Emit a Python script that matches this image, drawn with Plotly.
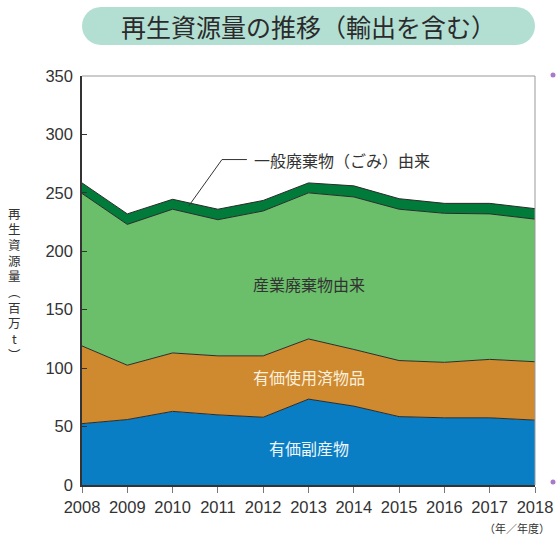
import plotly.graph_objects as go

years = [2008, 2009, 2010, 2011, 2012, 2013, 2014, 2015, 2016, 2017, 2018]
by_products = [52.5, 56, 63, 60, 58, 73.5, 67.5, 58.5, 57.5, 57.5, 55.5]
used_goods = [66.5, 46.5, 50, 50.5, 52.5, 51.5, 48.5, 48, 47.5, 50, 50]
industrial = [130.5, 120.5, 123, 116.5, 124, 125, 130.5, 129.5, 127.5, 124.5, 122]
municipal = [9, 9, 8.5, 9, 9, 8.5, 9.5, 9, 8.5, 9, 9]

series_names = ["有価副産物", "有価使用済物品", "産業廃棄物由来", "一般廃棄物（ごみ）由来"]
series_values = [by_products, used_goods, industrial, municipal]
colors = ["#0a7ec4", "#cf892e", "#6bbf6b", "#007b3a"]

title_text = "再生資源量の推移（輸出を含む）"
y_title_chars = ["再", "生", "資", "源", "量", "︵", "百", "万", "t", "︶"]
unit_text = "（年／年度）"

JP = "Noto Sans CJK JP, Noto Sans, sans-serif"
NUM = "Liberation Sans, Arial, sans-serif"

fig = go.Figure()
for name, vals, col in zip(series_names, series_values, colors):
    fig.add_trace(go.Scatter(
        x=years, y=vals, name=name, mode="lines", stackgroup="one",
        line=dict(color="#2b2b2b", width=1), fillcolor=col, showlegend=False,
    ))

fig.update_layout(
    width=556, height=536,
    margin=dict(l=82, r=21, t=76, b=51, autoexpand=False),
    paper_bgcolor="white", plot_bgcolor="white",
    showlegend=False,
)
fig.update_xaxes(
    range=[2008, 2018], dtick=1, tick0=2008, automargin=False,
    showgrid=False, zeroline=False,
    showline=True, linecolor="#333", linewidth=1.5,
    ticks="outside", ticklen=6, tickcolor="#777", tickwidth=1,
    tickfont=dict(family=NUM, size=16.5, color="#333"),
)
fig.update_yaxes(
    range=[0, 350], dtick=50, tick0=0, automargin=False,
    showgrid=False, zeroline=False,
    showline=True, linecolor="#333", linewidth=1.5,
    ticks="inside", ticklen=5, tickcolor="#333", tickwidth=1,
    tickfont=dict(family=NUM, size=16.5, color="#333"),
    ticklabelstandoff=4,
)

shapes = []
shapes.append(dict(type="line", xref="paper", yref="paper", x0=0, x1=1, y0=1, y1=1,
                   line=dict(color="#999", width=1)))
shapes.append(dict(type="line", xref="paper", yref="paper", x0=1, x1=1, y0=0, y1=1,
                   line=dict(color="#999", width=1)))
pw, ph = 453.0, 409.0
x0, x1 = 0.0, 1.0
ytop = (409 - (7 - 76)) / ph
ybot = (409 - (45 - 76)) / ph
r = 19.0
rx, ry = r / pw, r / ph
k = 0.5523
path = (
    f"M {x0+rx},{ytop} L {x1-rx},{ytop} "
    f"C {x1-rx+k*rx},{ytop} {x1},{ytop-ry+k*ry} {x1},{ytop-ry} "
    f"L {x1},{ybot+ry} "
    f"C {x1},{ybot+ry-k*ry} {x1-rx+k*rx},{ybot} {x1-rx},{ybot} "
    f"L {x0+rx},{ybot} "
    f"C {x0+rx-k*rx},{ybot} {x0},{ybot+ry-k*ry} {x0},{ybot+ry} "
    f"L {x0},{ytop-ry} "
    f"C {x0},{ytop-ry+k*ry} {x0+rx-k*rx},{ytop} {x0+rx},{ytop} Z"
)
shapes.append(dict(type="path", xref="paper", yref="paper", path=path,
                   fillcolor="#b3dfd3", line=dict(width=0), layer="below"))
shapes.append(dict(type="line", xref="x", yref="y", x0=2010.36, y0=239, x1=2011.09, y1=278.5,
                   line=dict(color="#333", width=1)))
shapes.append(dict(type="line", xref="x", yref="y", x0=2011.09, y0=278.5, x1=2011.64, y1=278.5,
                   line=dict(color="#333", width=1)))
for yy in [75, 482]:
    py = (485 - yy) / ph
    shapes.append(dict(type="circle", xref="paper", yref="paper",
                       x0=(553 - 82 - 2.5) / pw, x1=(553 - 82 + 2.5) / pw,
                       y0=py - 2.5 / ph, y1=py + 2.5 / ph,
                       fillcolor="#a77bca", line=dict(width=0)))
fig.update_layout(shapes=shapes)

ann = []
ann.append(dict(text=title_text, xref="paper", yref="paper", x=0.5, y=(409 - (26 - 76)) / ph,
                showarrow=False, font=dict(family=JP, size=25, color="#2b2b2b"),
                xanchor="center", yanchor="middle"))
for i, ch in enumerate(y_title_chars):
    cy = 213 + i * 15.7
    ann.append(dict(text=ch, xref="paper", yref="paper",
                    x=(14 - 82) / pw, y=(485 - cy) / ph, showarrow=False,
                    font=dict(family=JP, size=12.5, color="#333"),
                    xanchor="center", yanchor="middle"))
ann.append(dict(text=unit_text, xref="paper", yref="paper", x=(552 - 82) / pw, y=(485 - 528) / ph,
                showarrow=False, font=dict(family=JP, size=11, color="#333"),
                xanchor="right", yanchor="middle"))
ann.append(dict(text=series_names[3], x=2011.75, y=278.5, xref="x", yref="y",
                showarrow=False, font=dict(family=JP, size=16, color="#333"),
                xanchor="left", yanchor="middle"))
ann.append(dict(text=series_names[2], x=2013, y=172, xref="x", yref="y",
                showarrow=False, font=dict(family=JP, size=16, color="#333"),
                xanchor="center", yanchor="middle"))
ann.append(dict(text=series_names[1], x=2013, y=92, xref="x", yref="y",
                showarrow=False, font=dict(family=JP, size=16, color="#fbf0de"),
                xanchor="center", yanchor="middle"))
ann.append(dict(text=series_names[0], x=2013, y=32, xref="x", yref="y",
                showarrow=False, font=dict(family=JP, size=16, color="#eef6fb"),
                xanchor="center", yanchor="middle"))
fig.update_layout(annotations=ann)

fig.write_html("out.html", config={"displayModeBar": False},
               post_script="document.body.style.margin='0';document.body.style.overflow='hidden';")
